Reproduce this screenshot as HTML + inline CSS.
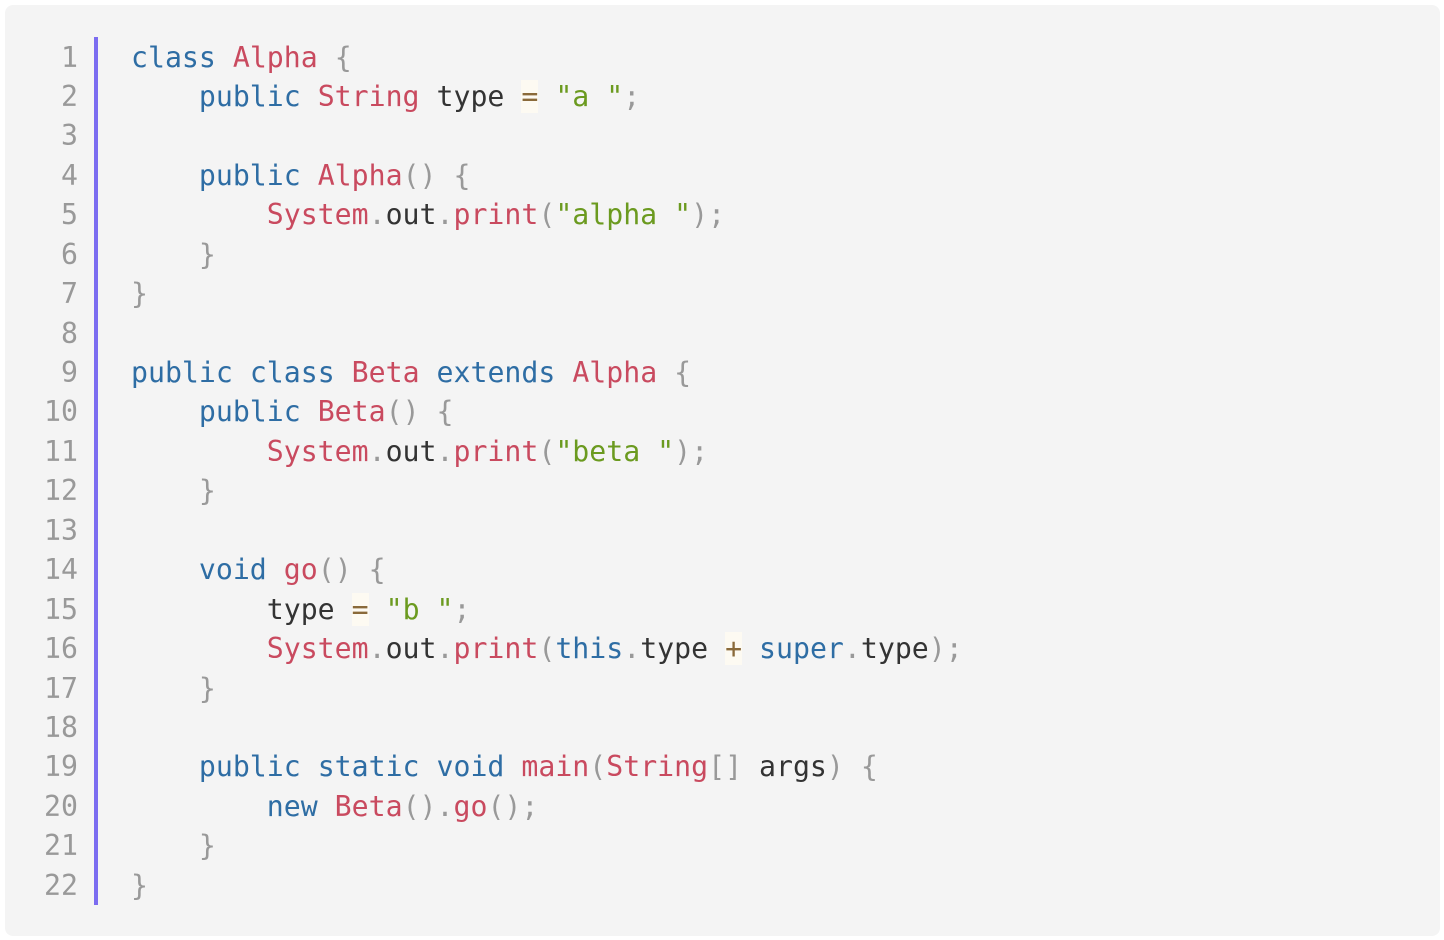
<!DOCTYPE html>
<html><head><meta charset="utf-8"><style>
html,body{margin:0;padding:0;background:#fff;width:1444px;height:940px;overflow:hidden}
.panel{position:absolute;left:5px;top:5px;width:1435px;height:931px;background:#f4f4f4;border-radius:8px}
.bar{position:absolute;left:94px;top:37px;width:4px;height:868px;background:#7b6cf0}
.code{position:absolute;left:0;top:37.5px;font-family:"DejaVu Sans Mono","Liberation Mono",monospace;font-size:28.2px;color:#333}
.l{height:39.45px;line-height:39.45px;white-space:pre;position:relative}
.n{position:absolute;left:0;width:78px;text-align:right;color:#999}
.t{position:absolute;left:131px}
.k{color:#2e6da4}.r{color:#c94a5f}.s{color:#6b9a1f}.p{color:#999}.o{color:#8a6a3a;background:#fdfaf2}
</style></head><body>
<div class="panel"></div><div class="bar"></div>
<div class="code">
<div class="l"><span class="n">1</span><span class="t"><span class="k">class</span> <span class="r">Alpha</span> <span class="p">{</span></span></div>
<div class="l"><span class="n">2</span><span class="t">    <span class="k">public</span> <span class="r">String</span> type <span class="o">=</span> <span class="s">"a "</span><span class="p">;</span></span></div>
<div class="l"><span class="n">3</span></div>
<div class="l"><span class="n">4</span><span class="t">    <span class="k">public</span> <span class="r">Alpha</span><span class="p">() {</span></span></div>
<div class="l"><span class="n">5</span><span class="t">        <span class="r">System</span><span class="p">.</span>out<span class="p">.</span><span class="r">print</span><span class="p">(</span><span class="s">"alpha "</span><span class="p">);</span></span></div>
<div class="l"><span class="n">6</span><span class="t">    <span class="p">}</span></span></div>
<div class="l"><span class="n">7</span><span class="t"><span class="p">}</span></span></div>
<div class="l"><span class="n">8</span></div>
<div class="l"><span class="n">9</span><span class="t"><span class="k">public</span> <span class="k">class</span> <span class="r">Beta</span> <span class="k">extends</span> <span class="r">Alpha</span> <span class="p">{</span></span></div>
<div class="l"><span class="n">10</span><span class="t">    <span class="k">public</span> <span class="r">Beta</span><span class="p">() {</span></span></div>
<div class="l"><span class="n">11</span><span class="t">        <span class="r">System</span><span class="p">.</span>out<span class="p">.</span><span class="r">print</span><span class="p">(</span><span class="s">"beta "</span><span class="p">);</span></span></div>
<div class="l"><span class="n">12</span><span class="t">    <span class="p">}</span></span></div>
<div class="l"><span class="n">13</span></div>
<div class="l"><span class="n">14</span><span class="t">    <span class="k">void</span> <span class="r">go</span><span class="p">() {</span></span></div>
<div class="l"><span class="n">15</span><span class="t">        type <span class="o">=</span> <span class="s">"b "</span><span class="p">;</span></span></div>
<div class="l"><span class="n">16</span><span class="t">        <span class="r">System</span><span class="p">.</span>out<span class="p">.</span><span class="r">print</span><span class="p">(</span><span class="k">this</span><span class="p">.</span>type <span class="o">+</span> <span class="k">super</span><span class="p">.</span>type<span class="p">);</span></span></div>
<div class="l"><span class="n">17</span><span class="t">    <span class="p">}</span></span></div>
<div class="l"><span class="n">18</span></div>
<div class="l"><span class="n">19</span><span class="t">    <span class="k">public</span> <span class="k">static</span> <span class="k">void</span> <span class="r">main</span><span class="p">(</span><span class="r">String</span><span class="p">[]</span> args<span class="p">) {</span></span></div>
<div class="l"><span class="n">20</span><span class="t">        <span class="k">new</span> <span class="r">Beta</span><span class="p">().</span><span class="r">go</span><span class="p">();</span></span></div>
<div class="l"><span class="n">21</span><span class="t">    <span class="p">}</span></span></div>
<div class="l"><span class="n">22</span><span class="t"><span class="p">}</span></span></div>
</div>
</body></html>
